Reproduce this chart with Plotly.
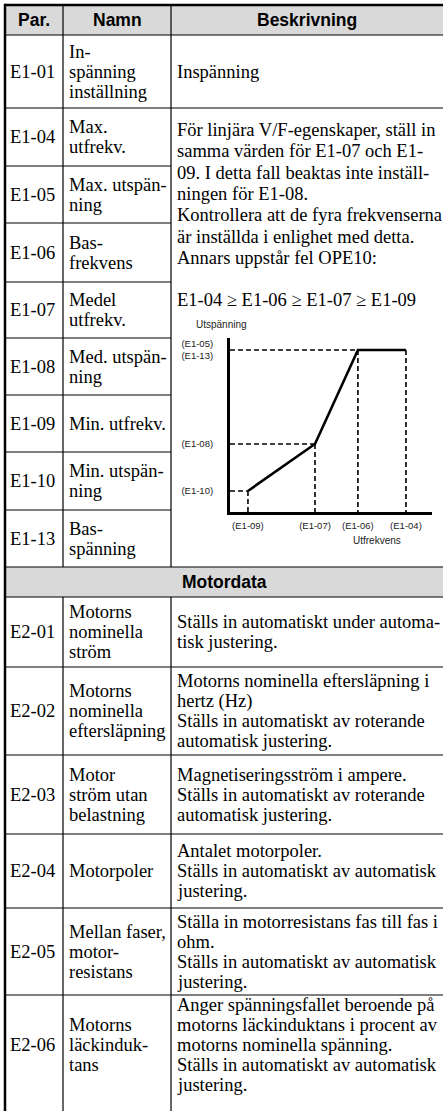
import plotly.graph_objects as go

# ---------------- data ----------------
header = ["Par.", "Namn", "Beskrivning"]
section_title = "Motordata"

params_e1 = ["E1-01", "E1-04", "E1-05", "E1-06", "E1-07", "E1-08", "E1-09", "E1-10", "E1-13"]
names_e1 = [
    ["In-", "spänning", "inställning"],
    ["Max.", "utfrekv."],
    ["Max. utspän-", "ning"],
    ["Bas-", "frekvens"],
    ["Medel", "utfrekv."],
    ["Med. utspän-", "ning"],
    ["Min. utfrekv."],
    ["Min. utspän-", "ning"],
    ["Bas-", "spänning"],
]
desc_e1_01 = ["Inspänning"]
desc_e1_vf = [
    "För linjära V/F-egenskaper, ställ in",
    "samma värden för E1-07 och E1-",
    "09. I detta fall beaktas inte inställ-",
    "ningen för E1-08.",
    "Kontrollera att de fyra frekvenserna",
    "är inställda i enlighet med detta.",
    "Annars uppstår fel OPE10:",
]
vf_rule = "E1-04 ≥ E1-06 ≥ E1-07 ≥ E1-09"

params_e2 = ["E2-01", "E2-02", "E2-03", "E2-04", "E2-05", "E2-06"]
names_e2 = [
    ["Motorns", "nominella", "ström"],
    ["Motorns", "nominella", "eftersläpning"],
    ["Motor", "ström utan", "belastning"],
    ["Motorpoler"],
    ["Mellan faser,", "motor-", "resistans"],
    ["Motorns", "läckinduk-", "tans"],
]
desc_e2 = [
    ["Ställs in automatiskt under automa-", "tisk justering."],
    ["Motorns nominella eftersläpning i", "hertz (Hz)",
     "Ställs in automatiskt av roterande", "automatisk justering."],
    ["Magnetiseringsström i ampere.", "Ställs in automatiskt av roterande",
     "automatisk justering."],
    ["Antalet motorpoler.", "Ställs in automatiskt av automatisk", "justering."],
    ["Ställa in motorresistans fas till fas i", "ohm.",
     "Ställs in automatiskt av automatisk", "justering."],
    ["Anger spänningsfallet beroende på", "motorns läckinduktans i procent av",
     "motorns nominella spänning.", "Ställs in automatiskt av automatisk",
     "justering."],
]

# V/f characteristic (schematic, relative %)
vf_x_title = "Utfrekvens"
vf_y_title = "Utspänning"
vf_freq_labels = ["(E1-09)", "(E1-07)", "(E1-06)", "(E1-04)"]
vf_freq = [10.2, 48.3, 72.7, 100.0]
vf_volt_labels = ["(E1-10)", "(E1-08)", "(E1-05)<br>(E1-13)"]
vf_volt = [13.0, 42.0, 100.0]

# ---------------- layout constants ----------------
W, H = 443, 1111
X0, XC1, XC2, XR = 5, 63, 171, 443
TOP, HDR_B = 5, 35
E1_EDGES = [35, 108, 166, 223, 282, 338, 395, 452, 510, 567]
SEC_T, SEC_B = 567, 597
E2_EDGES = [597, 667, 755, 834, 908, 995, 1095]
LH = 20
SERIF = "Liberation Serif"
SANS = "Liberation Sans"
FS = 18.5
GRAY = "#d9d9d9"

shapes = []
annotations = []


def hline(y, x0, x1, w=1.2):
    shapes.append(dict(type="line", xref="x", yref="y", x0=x0, x1=x1, y0=y, y1=y,
                       line=dict(color="black", width=w)))


def vline(x, y0, y1, w=1.2):
    shapes.append(dict(type="line", xref="x", yref="y", x0=x, x1=x, y0=y0, y1=y1,
                       line=dict(color="black", width=w)))


def text(x, y, s, anchor="left", size=FS, family=SERIF, bold=False):
    annotations.append(dict(xref="x", yref="y", x=x, y=y, text=(f"<b>{s}</b>" if bold else s),
                            showarrow=False, xanchor=anchor, yanchor="middle",
                            font=dict(family=family, size=size, color="black")))


def lines_block(x, top, bottom, lines):
    c = (top + bottom) / 2
    n = len(lines)
    for i, s in enumerate(lines):
        text(x, c + (i - (n - 1) / 2) * LH, s)


# backgrounds
for (t, b) in [(TOP, HDR_B), (SEC_T, SEC_B)]:
    shapes.append(dict(type="rect", xref="x", yref="y", x0=X0, x1=XR, y0=t, y1=b,
                       fillcolor=GRAY, line=dict(width=0), layer="below"))

# header
text((X0 + XC1) / 2, (TOP + HDR_B) / 2, header[0], "center", 17.5, SANS, True)
text((XC1 + XC2) / 2, (TOP + HDR_B) / 2, header[1], "center", 17.5, SANS, True)
text((XC2 + XR) / 2, (TOP + HDR_B) / 2, header[2], "center", 17.5, SANS, True)
text((X0 + XR) / 2, (SEC_T + SEC_B) / 2, section_title, "center", 17.5, SANS, True)

# lines
hline(TOP, X0, XR, 2.5)
vline(X0, TOP - 1.2, H, 2.5)
hline(HDR_B, X0, XR)
hline(E1_EDGES[1], X0, XR)
for y in E1_EDGES[2:-1]:
    hline(y, X0, XC2)
hline(SEC_T, X0, XR)
hline(SEC_B, X0, XR)
for y in E2_EDGES[1:-1]:
    hline(y, X0, XR)
for x in (XC1, XC2):
    vline(x, TOP, SEC_T)
    vline(x, SEC_B, H)

# E1 rows
for i, p in enumerate(params_e1):
    t, b = E1_EDGES[i], E1_EDGES[i + 1]
    text(X0 + 3, (t + b) / 2, p)
    lines_block(XC1 + 4, t, b, names_e1[i])
lines_block(XC2 + 4, E1_EDGES[0], E1_EDGES[1], desc_e1_01)
for i, s in enumerate(desc_e1_vf):
    text(XC2 + 4, 130 + i * 21.3, s)
text(XC2 + 4, 130 + (len(desc_e1_vf) + 1) * 21.3, vf_rule)

# E2 rows
for i, p in enumerate(params_e2):
    t, b = E2_EDGES[i], E2_EDGES[i + 1]
    text(X0 + 3, (t + b) / 2, p)
    lines_block(XC1 + 4, t, b, names_e2[i])
    lines_block(XC2 + 4, t, b, desc_e2[i])

# ---------------- V/f chart ----------------
fig = go.Figure()
f09, f07, f06, f04 = vf_freq
v10, v08, v05 = vf_volt

dash_x, dash_y = [], []
for fx, vy in [(f09, v10), (f07, v08), (f06, v05)]:
    dash_x += [0, fx, None]
    dash_y += [vy, vy, None]
for fx, vy in [(f09, v10), (f07, v08), (f06, v05), (f04, v05)]:
    dash_x += [fx, fx, None]
    dash_y += [vy, 0, None]
fig.add_trace(go.Scatter(x=dash_x, y=dash_y, mode="lines", xaxis="x2", yaxis="y2",
                         line=dict(color="black", width=1.6, dash="5px,3px"),
                         hoverinfo="skip", showlegend=False))
fig.add_trace(go.Scatter(x=[f09, f07, f06, f04], y=[v10, v08, v05, v05], mode="lines",
                         xaxis="x2", yaxis="y2", line=dict(color="black", width=2.6),
                         showlegend=False))

cx0, cx1 = 230, 432
cy0, cy1 = 338, 512
chart_font = dict(family=SANS, size=9.5, color="#222")
annotations.append(dict(xref="x", yref="y", x=221, y=324, text=vf_y_title, showarrow=False,
                        xanchor="center", yanchor="middle", font=dict(family=SANS, size=10, color="#222")))
annotations.append(dict(xref="x", yref="y", x=377, y=540, text=vf_x_title, showarrow=False,
                        xanchor="center", yanchor="middle", font=dict(family=SANS, size=10, color="#222")))

fig.update_layout(
    width=W, height=H, margin=dict(l=0, r=0, t=0, b=0),
    paper_bgcolor="white", plot_bgcolor="rgba(0,0,0,0)",
    showlegend=False,
    xaxis=dict(range=[0, W], domain=[0, 1], visible=False, fixedrange=True),
    yaxis=dict(range=[H, 0], domain=[0, 1], visible=False, fixedrange=True),
    xaxis2=dict(domain=[cx0 / W, cx1 / W], anchor="y2", range=[0, 114.8],
                showline=True, linewidth=3, linecolor="black", showgrid=False, zeroline=False,
                tickvals=vf_freq, ticktext=vf_freq_labels, ticks="", tickfont=chart_font,
                ticklabelstandoff=3, fixedrange=True),
    yaxis2=dict(domain=[1 - cy1 / H, 1 - cy0 / H], anchor="x2", range=[0, 107.4],
                showline=True, linewidth=3, linecolor="black", showgrid=False, zeroline=False,
                tickvals=vf_volt, ticktext=vf_volt_labels, ticks="", tickfont=chart_font,
                ticklabelstandoff=12, fixedrange=True),
    shapes=shapes, annotations=annotations,
)

fig.write_html(
    "out.html",
    config={"displayModeBar": False, "staticPlot": True},
    post_script="document.body.style.margin='0';document.body.style.padding='0';"
                "document.body.style.overflow='hidden';",
)
